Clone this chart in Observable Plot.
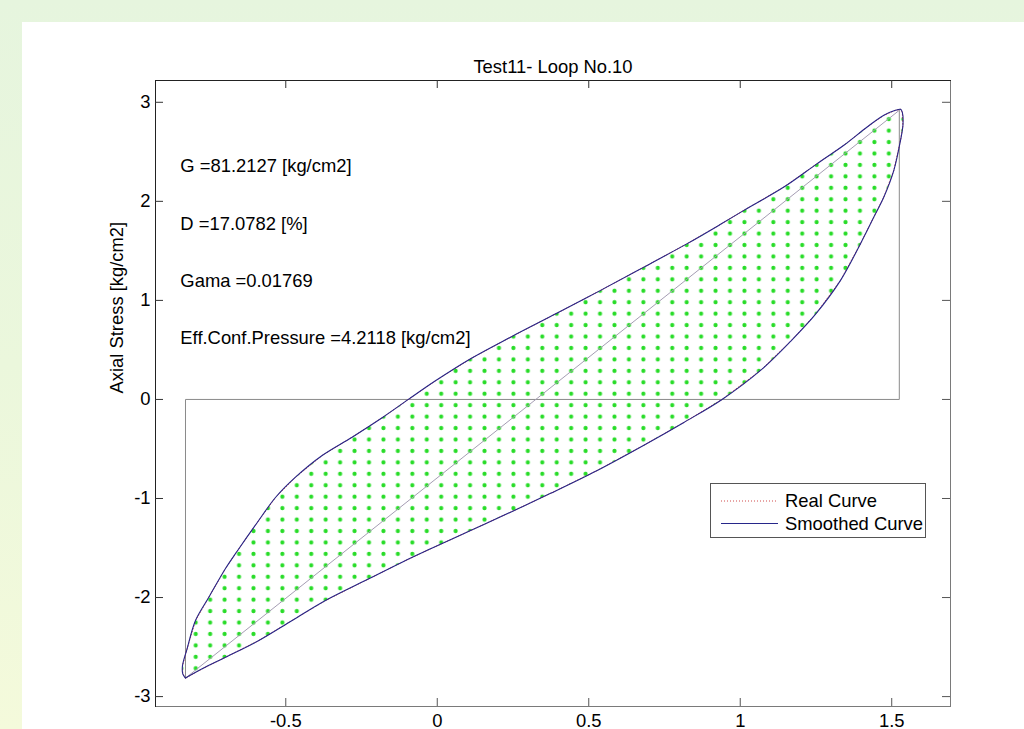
<!DOCTYPE html>
<html>
<head>
<meta charset="utf-8">
<script src="https://cdn.jsdelivr.net/npm/d3@7"></script>
<script src="https://cdn.jsdelivr.net/npm/@observablehq/plot@0.6"></script>
<style>
html, body { margin: 0; padding: 0; width: 1024px; height: 729px; overflow: hidden;
  background: linear-gradient(to bottom, #e6f5de 0%, #ebf7dc 50%, #f4fadb 100%);
  font-family: "Liberation Sans", Arial, sans-serif; }
#panel { position: absolute; left: 22px; top: 22px; width: 1002px; height: 707px; background: #fff; }
#chart { position: absolute; left: 0; top: 0; }
#legend { position: absolute; left: 710px; top: 483px; width: 216px; height: 55px;
  border: 1px solid #555; background: #fff; box-sizing: border-box; }
#legend svg { position: absolute; left: 0; top: 0; }
</style>
</head>
<body>
<div id="panel"></div>
<div id="chart"></div>
<div id="legend"></div>
<script>
// ---- data ----
const titleText = "Test11- Loop No.10";
const yLabel = "Axial Stress [kg/cm2]";
const xDomain = [-0.93, 1.694];
const yDomain = [-3.10, 3.22];
const xTicks = [-0.5, 0, 0.5, 1, 1.5];
const yTicks = [-3, -2, -1, 0, 1, 2, 3];

// upper branch (bottom tip -> top peak)
const upperX = [-0.831,-0.840,-0.841,-0.826,-0.798,-0.754,-0.699,-0.660,-0.594,-0.534,-0.468,-0.380,-0.281,-0.182,-0.094,-0.006,0.110,0.242,0.396,0.539,0.682,0.825,0.935,1.012,1.144,1.254,1.342,1.419,1.474,1.512,1.529];
const upperY = [-2.813,-2.770,-2.690,-2.520,-2.232,-1.997,-1.707,-1.530,-1.242,-0.990,-0.785,-0.566,-0.381,-0.185,0.003,0.188,0.411,0.629,0.872,1.101,1.336,1.573,1.768,1.909,2.144,2.381,2.566,2.751,2.869,2.919,2.929];
// lower branch (top peak -> bottom tip)
const lowerX = [1.535,1.537,1.529,1.507,1.474,1.441,1.397,1.331,1.248,1.166,1.067,0.940,0.814,0.682,0.528,0.374,0.242,0.110,-0.022,-0.116,-0.226,-0.369,-0.479,-0.589,-0.699,-0.776,-0.831];
const lowerY = [2.899,2.768,2.616,2.313,2.043,1.841,1.573,1.202,0.858,0.586,0.293,0.000,-0.232,-0.462,-0.717,-0.948,-1.138,-1.323,-1.508,-1.643,-1.811,-2.030,-2.232,-2.434,-2.603,-2.720,-2.813];

// reference lines (tip-to-tip diagonal and step outline)
const diagX = [-0.831, 1.529];
const diagY = [-2.813, 2.929];
const stepX = [-0.831, -0.831, 1.525, 1.525];
const stepY = [-2.813, 0, 0, 2.929];

// annotations
const annotLabels = ["G =81.2127 [kg/cm2]", "D =17.0782 [%]", "Gama =0.01769", "Eff.Conf.Pressure =4.2118 [kg/cm2]"];
const annotX = -0.848;
const annotY = [2.354, 1.768, 1.192, 0.616];

const legendLabels = ["Real Curve", "Smoothed Curve"];

// ---- build tables ----
const loop = upperX.map((x, i) => ({x, y: upperY[i]}))
  .concat(lowerX.map((x, i) => ({x, y: lowerY[i]})));
const diag = diagX.map((x, i) => ({x, y: diagY[i]}));
const step = stepX.map((x, i) => ({x, y: stepY[i]}));
const annots = annotLabels.map((t, i) => ({t, x: annotX, y: annotY[i]}));

const W = 1024, H = 729, mL = 155, mR = 74, mT = 80, mB = 23;
const frameW = W - mL - mR, frameH = H - mT - mB;
const FS = 18.4;
const font = "'Liberation Sans', Arial, sans-serif";
const navy = "#27278a";

const chart = Plot.plot({
  width: W, height: H,
  marginLeft: mL, marginRight: mR, marginTop: mT, marginBottom: mB,
  x: {domain: xDomain},
  y: {domain: yDomain},
  style: {background: "transparent", fontFamily: font, fontSize: FS + "px", color: "#000", overflow: "visible"},
  marks: [
    Plot.line(loop, {x: "x", y: "y", curve: "catmull-rom", fill: "url(#dots)", stroke: "none"}),
    Plot.line(step, {x: "x", y: "y", stroke: "#8a8a8a", strokeWidth: 1}),
    Plot.line(diag, {x: "x", y: "y", stroke: "#a59db3", strokeWidth: 1}),
    Plot.line(loop, {x: "x", y: "y", stroke: "#d04a4a", strokeWidth: 1, strokeDasharray: "1,2"}),
    Plot.line(loop, {x: "x", y: "y", curve: "catmull-rom", stroke: navy, strokeWidth: 1.1}),
    Plot.frame({stroke: "#7a7a7a"}),
    Plot.frame({anchor: "top", stroke: "#222"}),
    Plot.frame({anchor: "left", stroke: "#222"}),
    // inward ticks on all four sides
    Plot.tickX(xTicks, {x: d => d, insetBottom: frameH - 8, stroke: "#333"}),
    Plot.tickX(xTicks, {x: d => d, insetTop: frameH - 8, stroke: "#555"}),
    Plot.tickY(yTicks, {y: d => d, insetRight: frameW - 8, stroke: "#333"}),
    Plot.tickY(yTicks, {y: d => d, insetLeft: frameW - 8, stroke: "#555"}),
    Plot.axisX(xTicks, {anchor: "bottom", tickSize: 0, tickPadding: 7, tickFormat: d => String(d), label: null, fontSize: FS, fill: "#000"}),
    Plot.axisY(yTicks, {anchor: "left", tickSize: 0, tickPadding: 5, tickFormat: d => String(d), label: null, fontSize: FS, fill: "#000"}),
    Plot.text(annots, {x: "x", y: "y", text: "t", textAnchor: "start", fontSize: FS, fill: "#000"}),
    Plot.text([titleText], {text: d => d, frameAnchor: "top", dy: -21, fontSize: FS, fill: "#000"}),
    Plot.text([yLabel], {text: d => d, frameAnchor: "left", rotate: -90, dx: -38, fontSize: FS, fill: "#000"})
  ]
});

// dot hatch pattern used for the loop interior
const svgSel = d3.select(chart);
const defs = svgSel.insert("defs", ":first-child");
const pw = 14.44, ph = 11.44;
const pat = defs.append("pattern")
  .attr("id", "dots")
  .attr("patternUnits", "userSpaceOnUse")
  .attr("x", 440.7 - pw / 2).attr("y", 301.7 - ph / 2)
  .attr("width", pw).attr("height", ph);
pat.append("circle").attr("cx", pw / 2).attr("cy", ph / 2).attr("r", 2.1).attr("fill", "#28dc28");

document.getElementById("chart").appendChild(chart);

// legend
const lg = d3.select("#legend").append("svg").attr("width", 216).attr("height", 55);
const rows = [
  {y: 17, stroke: "#d04a4a", dash: "1,2"},
  {y: 39.5, stroke: navy, dash: null}
];
rows.forEach((r, i) => {
  lg.append("line").attr("x1", 10).attr("x2", 67).attr("y1", r.y).attr("y2", r.y)
    .attr("stroke", r.stroke).attr("stroke-width", 1).attr("stroke-dasharray", r.dash);
  lg.append("text").attr("x", 74).attr("y", r.y).attr("dy", "0.35em")
    .attr("font-family", font).attr("font-size", FS).attr("fill", "#000")
    .text(legendLabels[i]);
});
</script>
</body>
</html>
